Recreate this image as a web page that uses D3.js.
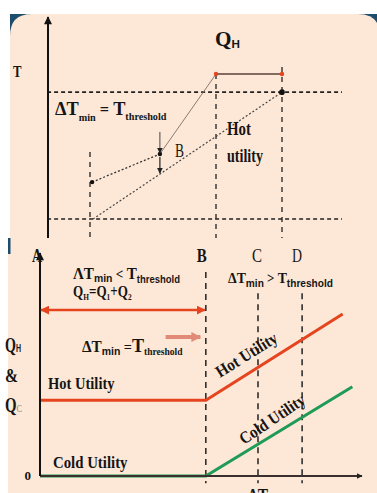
<!DOCTYPE html>
<html><head><meta charset="utf-8">
<script src="https://cdn.jsdelivr.net/npm/d3@7/dist/d3.min.js"></script>
<style>body{margin:0;background:#fff}svg{display:block}text{white-space:pre}</style>
</head><body>
<svg id="c" width="377" height="493"></svg>
<script>
// ---------- data ----------
// Top panel: temperature (T) vs heat load (Q), both in % of axis
const hotComposite = [[14.7, 25.3], [37.3, 38], [56, 74.2]];
const coldComposite = [[15, 8.6], [78, 66]];
const tLevels = [66, 8.6];
const qGuides = [14, 56, 78];
const qGuideTops = [38.9, 74.2, 77.4];
const qHotUtility = [56, 78];
const tHotUtility = 74.2;
const qDtMin = 37.3;
// Bottom panel: Q_H & Q_C vs ΔT_min
const dtLabels = ["A", "B", "C", "D"];
const dtValues = [0, 51.5, 67.7, 81.4];
const dtGuideTops = [null, 91.5, 82, 82];
const hotUtility = [[0, 34], [51.5, 34], [94, 72.6]];
const coldUtility = [[0, 0], [51.5, 0], [97, 40]];
const yTickLabels = ["0"];

// ---------- setup ----------
const SERIF = "'Liberation Serif','Times New Roman',serif";
const SANS = "'Liberation Sans',Arial,sans-serif";
const PEACH = "#fde8d7", BLUE = "#1c4d6c", RED = "#e5441f", GREEN = "#1f9a57";
const svg = d3.select("#c");

const defs = svg.append("defs");
function marker(id, color, w, h) {
  defs.append("marker").attr("id", id).attr("viewBox", "0 0 10 10").attr("refX", 9).attr("refY", 5)
    .attr("markerWidth", w).attr("markerHeight", h).attr("orient", "auto-start-reverse")
    .attr("markerUnits", "userSpaceOnUse")
    .append("path").attr("d", "M0,0L10,5L0,10Z").attr("fill", color);
}
marker("ab", "#111", 9, 8);
marker("abs", "#222", 6, 6);
marker("ar", RED, 9, 9);
marker("ap", "#e28a78", 10, 12);

// backgrounds
svg.append("rect").attr("x", 10).attr("y", 14).attr("width", 367).attr("height", 26).attr("fill", BLUE);
svg.append("path").attr("d", "M10,238L10,36Q10,14 32,14L358,14Q380,14 380,36L380,238Z").attr("fill", PEACH);
svg.append("rect").attr("x", 8).attr("y", 238).attr("width", 369).attr("height", 255).attr("fill", PEACH);
svg.append("rect").attr("x", 8).attr("y", 238).attr("width", 2.5).attr("height", 16).attr("fill", BLUE);

// ---------- rich text helper ----------
function rich(x, y, parts, opt = {}) {
  const g = svg.append("g");
  const t = g.append("text");
  let cur = 0;
  parts.forEach(p => {
    const sub = p.sub || 0;
    t.append("tspan").attr("dy", sub - cur).text(p.t)
      .attr("font-size", p.s).attr("font-weight", p.w || "bold")
      .attr("font-family", p.f || SERIF).attr("fill", p.c || "#151515");
    cur = sub;
  });
  if (opt.w) {
    const bb = t.node().getBBox();
    t.attr("transform", `scale(${opt.w / bb.width},1)`);
  }
  g.attr("transform", `translate(${x},${y})` + (opt.rot ? ` rotate(${opt.rot})` : ""));
  return g;
}

// ---------- top panel ----------
const xT = d3.scaleLinear([0, 100], [48, 348]);
const yT = d3.scaleLinear([0, 100], [238, 17]);
const lineT = d3.line().x(d => xT(d[0])).y(d => yT(d[1]));

// horizontal dashed temperature levels
svg.selectAll(".tl").data(tLevels).join("line")
  .attr("x1", xT(-0.3)).attr("x2", xT(98)).attr("y1", d => yT(d)).attr("y2", d => yT(d))
  .attr("stroke", "#222").attr("stroke-width", 1.6).attr("stroke-dasharray", "4,3");
// vertical dashed guides
svg.selectAll(".qg").data(qGuides).join("line")
  .attr("x1", d => xT(d)).attr("x2", d => xT(d)).attr("y1", (d, i) => yT(qGuideTops[i])).attr("y2", yT(0))
  .attr("stroke", "#222").attr("stroke-width", 1.3).attr("stroke-dasharray", "5,5");

// hot composite curve
svg.append("path").attr("d", lineT(hotComposite.slice(0, 2))).attr("fill", "none")
  .attr("stroke", "#333").attr("stroke-width", 1.3).attr("stroke-dasharray", "2,2");
svg.append("path").attr("d", lineT(hotComposite.slice(1))).attr("fill", "none")
  .attr("stroke", "#8a7a72").attr("stroke-width", 1);
// cold composite curve
svg.append("path").attr("d", lineT(coldComposite)).attr("fill", "none")
  .attr("stroke", "#444").attr("stroke-width", 1.2).attr("stroke-dasharray", "2,2");
svg.selectAll(".hd").data(hotComposite.slice(0, 2)).join("circle")
  .attr("cx", d => xT(d[0])).attr("cy", d => yT(d[1])).attr("r", 2.2).attr("fill", "#111");
svg.append("circle").attr("cx", xT(coldComposite[1][0])).attr("cy", yT(coldComposite[1][1])).attr("r", 2.8).attr("fill", "#111");

// Q_H span
svg.append("line").attr("x1", xT(qHotUtility[0])).attr("x2", xT(qHotUtility[1]))
  .attr("y1", yT(tHotUtility)).attr("y2", yT(tHotUtility)).attr("stroke", "#5b4238").attr("stroke-width", 1.6);
svg.selectAll(".qh").data(qHotUtility).join("circle")
  .attr("cx", d => xT(d)).attr("cy", yT(tHotUtility)).attr("r", 2.2).attr("fill", RED);

// ΔTmin pointer arrows
const tHotAt = hotComposite[1][1];
const tColdAt = coldComposite[0][1] + (qDtMin - coldComposite[0][0]) *
  (coldComposite[1][1] - coldComposite[0][1]) / (coldComposite[1][0] - coldComposite[0][0]);
svg.append("line").attr("x1", xT(qDtMin)).attr("x2", xT(qDtMin)).attr("y1", yT(48)).attr("y2", yT(tHotAt) - 1)
  .attr("stroke", "#444").attr("stroke-width", 1).attr("marker-end", "url(#abs)");
svg.append("line").attr("x1", xT(qDtMin)).attr("x2", xT(qDtMin)).attr("y1", yT(tHotAt) + 3).attr("y2", yT(tColdAt) - 1)
  .attr("stroke", "#222").attr("stroke-width", 1.2).attr("marker-end", "url(#abs)");

// T axis
svg.append("line").attr("x1", xT(0)).attr("x2", xT(0)).attr("y1", yT(0)).attr("y2", yT(100))
  .attr("stroke", "#111").attr("stroke-width", 2).attr("marker-end", "url(#ab)");

rich(13, 77, [{ t: "T", s: 17 }], { w: 9 });
rich(215, 46, [{ t: "Q", s: 20 }, { t: "H", s: 11, f: SANS, sub: 2 }], { w: 25 });
rich(55, 115, [{ t: "ΔT", s: 18 }, { t: "min", s: 10, sub: 6 }, { t: " = ", s: 16 }, { t: "T", s: 18 }, { t: "threshold", s: 10, sub: 5 }], { w: 112 });
rich(175, 157, [{ t: "B", s: 18, w: "normal" }], { w: 9 });
rich(227, 135, [{ t: "Hot", s: 18 }], { w: 24 });
rich(227, 162, [{ t: "utility", s: 18 }], { w: 36 });

// ---------- bottom panel ----------
const xB = d3.scaleLinear([0, 100], [40, 362]);
const yB = d3.scaleLinear([0, 100], [476, 253]);
const lineB = d3.line().x(d => xB(d[0])).y(d => yB(d[1]));

// vertical dashed guides at B, C, D
svg.selectAll(".dg").data(dtValues.slice(1)).join("line")
  .attr("x1", d => xB(d)).attr("x2", d => xB(d)).attr("y1", (d, i) => yB(dtGuideTops[i + 1])).attr("y2", yB(-3.2))
  .attr("stroke", "#222").attr("stroke-width", 1.5).attr("stroke-dasharray", "6,5");

// utility lines
svg.append("path").attr("d", lineB(hotUtility)).attr("fill", "none").attr("stroke", RED).attr("stroke-width", 3);
svg.append("path").attr("d", lineB(coldUtility)).attr("fill", "none").attr("stroke", GREEN).attr("stroke-width", 3);

// axes
svg.append("line").attr("x1", xB(0)).attr("x2", xB(100)).attr("y1", yB(0)).attr("y2", yB(0))
  .attr("stroke", "#3a2e2e").attr("stroke-width", 2).attr("marker-end", "url(#abs)");
svg.append("line").attr("x1", xB(0)).attr("x2", xB(0)).attr("y1", yB(0)).attr("y2", yB(100))
  .attr("stroke", "#111").attr("stroke-width", 2).attr("marker-end", "url(#ab)");
svg.selectAll(".yt").data(yTickLabels).join("text")
  .attr("x", xB(0) - 9).attr("y", d => yB(+d) + 4).attr("text-anchor", "end")
  .attr("font-family", SERIF).attr("font-weight", "bold").attr("font-size", 13).attr("fill", "#151515").text(d => d);

// red double arrow and faded pointer arrow
svg.append("line").attr("x1", xB(0) + 1).attr("x2", xB(dtValues[1]) - 1).attr("y1", yB(74.4)).attr("y2", yB(74.4))
  .attr("stroke", RED).attr("stroke-width", 2.5).attr("marker-start", "url(#ar)").attr("marker-end", "url(#ar)");
svg.append("line").attr("x1", xB(39)).attr("x2", xB(49.8)).attr("y1", yB(62.3)).attr("y2", yB(62.3))
  .attr("stroke", "#e28a78").attr("stroke-width", 4).attr("marker-end", "url(#ap)");

// point labels A B C D
const dtLabelOff = [-8, -9, -6, -10];
dtLabels.forEach((l, i) => rich(xB(dtValues[i]) + dtLabelOff[i], 262, [{ t: l, s: 18, w: i < 2 ? "bold" : "normal" }], { w: 10 }));

rich(73, 279, [{ t: "ΛT", s: 16 }, { t: "min", s: 11, f: SANS, sub: 3 }, { t: " < ", s: 14 }, { t: "T", s: 16 }, { t: "threshold", s: 10, f: SANS, sub: 4 }], { w: 107 });
rich(73, 297, [{ t: "Q", s: 16 }, { t: "H", s: 9, sub: 3 }, { t: "=Q", s: 16 }, { t: "1", s: 9, sub: 3 }, { t: "+Q", s: 16 }, { t: "2", s: 9, sub: 3 }], { w: 59 });
rich(82, 352, [{ t: "ΔT", s: 16 }, { t: "min", s: 11, f: SANS, sub: 3 }, { t: " =", s: 15 }, { t: "T", s: 19 }, { t: "threshold", s: 10, sub: 3 }], { w: 101 });
rich(228, 283, [{ t: "ΔT", s: 15 }, { t: "min", s: 11, f: SANS, sub: 4 }, { t: " > ", s: 14 }, { t: "T", s: 15 }, { t: "threshold", s: 11, f: SANS, sub: 4 }], { w: 105 });

rich(48, 389, [{ t: "Hot Utility", s: 17 }], { w: 67 });
rich(53, 468, [{ t: "Cold Utility", s: 17 }], { w: 75 });
rich(5, 352, [{ t: "Q", s: 20 }, { t: "H", s: 10, f: SANS }], { w: 16 });
rich(5, 382, [{ t: "&", s: 18 }], { w: 13 });
rich(5, 412, [{ t: "Q", s: 20 }, { t: "C", s: 11, w: "normal", c: "#888" }], { w: 17 });
rich(220, 378, [{ t: "Hot Utility", s: 17 }], { w: 70, rot: -32 });
rich(244, 445, [{ t: "Cold Utility", s: 17 }], { w: 76, rot: -34 });
rich(248, 502, [{ t: "ΔT", s: 18 }], { w: 20 });
</script>
</body></html>
